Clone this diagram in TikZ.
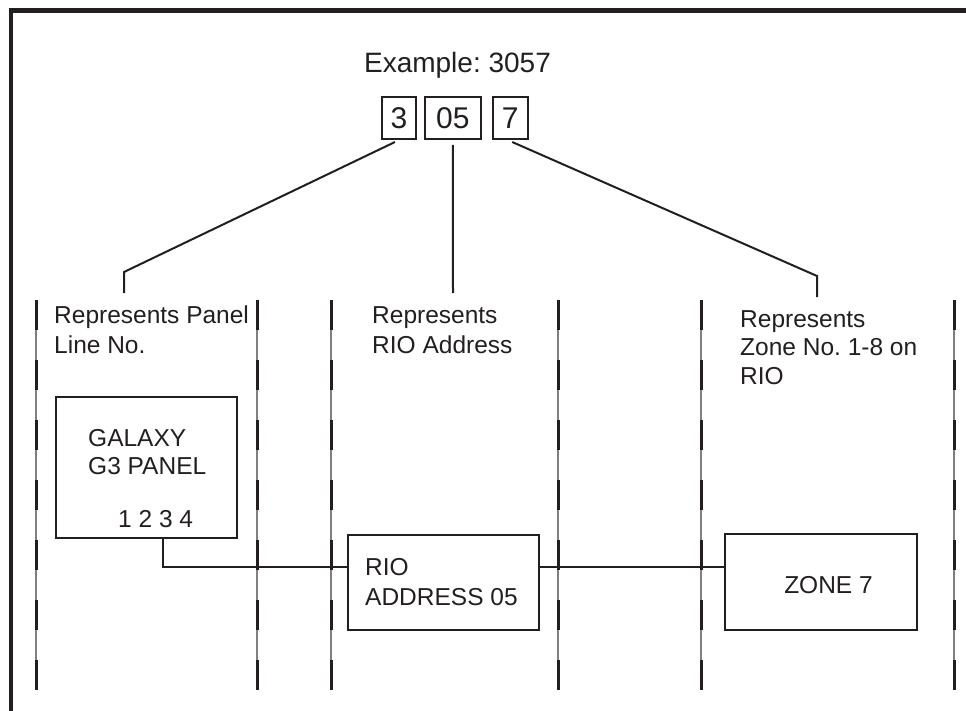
\documentclass[tikz,border=0pt]{standalone}
\usepackage{fontspec}
\setmainfont{Liberation Sans}
\definecolor{ink}{RGB}{35,31,32}
\frenchspacing
\begin{document}
\begin{tikzpicture}[x=1pt,y=-1pt,
  txt/.style={inner sep=0pt, anchor=base west, font=\fontsize{24.5}{30}\selectfont, text=ink},
  digit/.style={draw=ink, line width=2pt, inner sep=0pt, minimum height=42pt, font=\fontsize{30}{36}\selectfont, text=ink},
  box/.style={draw=ink, line width=2.3pt, inner sep=0pt},
  conn/.style={draw=ink, line width=2pt},
  frameline/.style={draw=ink, line width=4.6pt},
  guide/.style={draw=gray, line width=1.2pt},
  guidedash/.style={draw=ink, line width=3pt, dash pattern=on 30pt off 30pt}]
\useasboundingbox (0,0) rectangle (966,711);
% frame
\draw[frameline] (10.8,711) -- (10.8,10.8) -- (966,10.8);
% guides
\foreach \gx in {36,257,331,558,701,954}{
  \draw[guide] (\gx,300) -- (\gx,690);
  \draw[guidedash] (\gx,300) -- (\gx,690);
}
% title
\node[txt, anchor=base, font=\fontsize{28}{34}\selectfont] (title) at (457.5,73) {Example: 3057};
% digit boxes
\node[digit, minimum width=34pt] (d3) at (399,118) {3};
\node[digit, minimum width=55.5pt] (d05) at (452.8,118) {05};
\node[digit, minimum width=35pt] (d7) at (510.2,118) {7};
% label texts
\node[txt] (l1a) at (54,323) {Represents Panel};
\node[txt] (l1b) at (54,353) {Line No.};
\node[txt] (l2a) at (372,323) {Represents};
\node[txt] (l2b) at (372,353) {RIO Address};
\node[txt] (l3a) at (740,327) {Represents};
\node[txt] (l3b) at (740,355) {Zone No. 1-8 on};
\node[txt] (l3c) at (740,384) {RIO};
% leader end points
\coordinate (e1k) at (124,272);
\coordinate (e1) at (124,293);
\coordinate (e2) at (453,293);
\coordinate (e3k) at (817,276);
\coordinate (e3) at (817,297);
\draw[conn] ([xshift=-4pt,yshift=-2pt]d3.south) -- (e1k) -- (e1);
\draw[conn] ([yshift=-5pt]d05.south) -- (e2);
\draw[conn] ([xshift=2pt,yshift=-2pt]d7.south) -- (e3k) -- (e3);
% boxes
\node[box, minimum width=181pt, minimum height=141pt] (galaxy) at (146.5,467.5) {};
\node[box, minimum width=191pt, minimum height=95pt] (rio) at (443.4,582.5) {};
\node[box, minimum width=192pt, minimum height=96pt] (zone) at (821,582) {};
\node[txt] (g1) at (88,446) {GALAXY};
\node[txt] (g2) at (88,474) {G3 PANEL};
\node[txt] (g3) at (118,527) {1 2 3 4};
\node[txt] (r1) at (365,575) {RIO};
\node[txt] (r2) at (365,605) {ADDRESS 05};
\node[txt, anchor=base] (z1) at (828.5,593) {ZONE 7};
% connectors
\coordinate (gp) at (163,538);
\coordinate (ly) at (0,567);
\draw[conn] (gp) |- (rio.west |- ly);
\draw[conn] (rio.east |- ly) -- (zone.west |- ly);
\end{tikzpicture}
\end{document}
